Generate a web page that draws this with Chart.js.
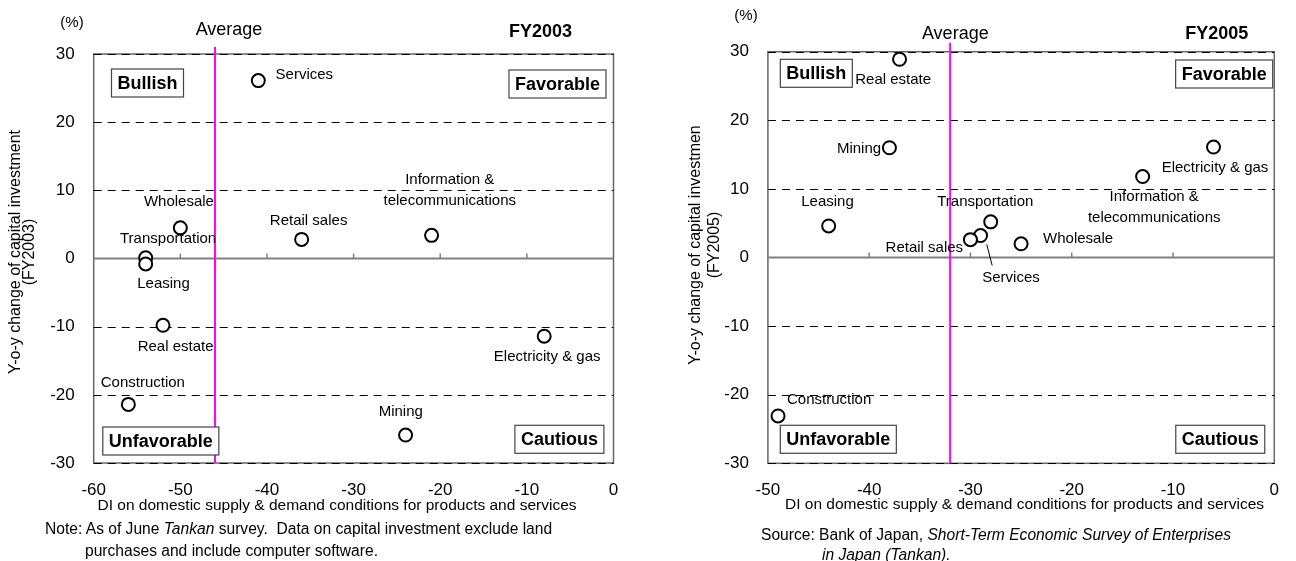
<!DOCTYPE html>
<html>
<head>
<meta charset="utf-8">
<script src="https://cdn.jsdelivr.net/npm/chart.js@4.4.1/dist/chart.umd.min.js"></script>
<style>
body { margin: 0; background: #fff; font-family: Arial, "Liberation Sans", sans-serif; }
#page { position: relative; width: 1296px; height: 561px; overflow: hidden; background: #fff; }
.panel { position: absolute; top: 0; width: 648px; height: 561px; }
.note { position: absolute; font-size: 15.6px; line-height: 18px; color: #000; white-space: nowrap; }
</style>
</head>
<body>
<div id="page">
  <div class="panel" style="left:0"><canvas id="chart-2003" width="648" height="561"></canvas></div>
  <div class="panel" style="left:648px"><canvas id="chart-2005" width="648" height="561"></canvas></div>
  <div class="note" style="left:45px; top:520px">Note: As of June <i>Tankan</i> survey.&nbsp; Data on capital investment exclude land</div>
  <div class="note" style="left:85px; top:542px">purchases and include computer software.</div>
  <div class="note" style="left:761px; top:526px">Source: Bank of Japan, <i>Short-Term Economic Survey of Enterprises</i></div>
  <div class="note" style="left:822px; top:546px"><i>in Japan (Tankan).</i></div>
</div>
<script>
//-------------------------- Data ---------------------------------------------
// FY2003 : DI (x) vs y-o-y change of capital investment (y)
const sectors2003 = ['Services', 'Wholesale', 'Transportation', 'Leasing', 'Retail sales',
    'Information &\ntelecommunications', 'Real estate', 'Electricity & gas', 'Construction', 'Mining'];
const di2003 = [-41, -50, -54, -54, -36, -21, -52, -8, -56, -24];
const capex2003 = [26.1, 4.5, 0.1, -0.8, 2.8, 3.4, -9.8, -11.4, -21.4, -25.9];
const average2003 = -46;

// FY2005
const sectors2005 = ['Real estate', 'Mining', 'Electricity & gas', 'Information &\ntelecommunications',
    'Leasing', 'Transportation', 'Services', 'Retail sales', 'Wholesale', 'Construction'];
const di2005 = [-37, -38, -6, -13, -44, -28, -29, -30, -25, -49];
const capex2005 = [28.9, 16.0, 16.1, 11.8, 4.6, 5.2, 3.2, 2.6, 2.0, -23.1];
const average2005 = -32;

// axis ranges
const xMin2003 = -60, xMin2005 = -50, xMax = 0, xStep = 10;
const yMin = -30, yMax = 30, yStep = 10;

const quadrantNames = ['Bullish', 'Favorable', 'Unfavorable', 'Cautious'];

//-------------------------- Layout (pixels) ---------------------------------
const FONT = 'Arial, "Liberation Sans", sans-serif';
Chart.defaults.font.family = FONT;
Chart.defaults.color = '#000';

// label centre offsets from each point, same order as the data
const labelPos2003 = [[46, -6], [-1.4, -26], [22.4, -19], [17.8, 20], [7, -18.6],
    [18.2, -55.3], [12.6, 21.4], [3, 21], [14.5, -21.6], [-4.8, -23.6]];
const labelPos2005 = [[-6.4, 20.7], [-30.4, 0.7], [1.5, 20.6], [11.6, 20.6], [-1.2, -24],
    [-5.4, -20], [30.4, 42], [-46.1, 7.7], [57, -5], [51.1, -16]];

const layout2003 = {
    area: { left: 93.7, top: 54, right: 613.5, bottom: 463 },
    labels: labelPos2003,
    leaders: [],
    boxes: [['tl', 17.8, 15], ['tr', 7.5, 16], ['bl', 9.1, 8], ['br', 9.6, 9.7]],
    percent: [72, 23], averageText: [229, 30], fy: [540.5, 32], avgOver: 7,
    yTitle: [15.3, 30, 252], xTitle: [337, 506],
    yTitleText: ['Y-o-y change of capital investment', '(FY2003)'], fyText: 'FY2003'
};
const layout2005 = {
    area: { left: 119.9, top: 51.7, right: 640.6, bottom: 463.3 },
    labels: labelPos2005,
    leaders: [[6, 6.2, 9, 11.6, 30]],
    boxes: [['tl', 12.4, 7.6], ['tr', 1.6, 8.3], ['bl', 12.4, 10], ['br', 9.5, 10]],
    percent: [98, 16], averageText: [307.3, 34], fy: [568.7, 34], avgOver: 9,
    yTitle: [47.5, 66.1, 245], xTitle: [376.5, 505],
    yTitleText: ['Y-o-y change of capital investmen', '(FY2005)'], fyText: 'FY2005'
};

//-------------------------- Drawing plugin -------------------------------------
function line(ctx, x1, y1, x2, y2) {
    ctx.beginPath();
    ctx.moveTo(x1, y1);
    ctx.lineTo(x2, y2);
    ctx.stroke();
}

function makePlugin(names, average, lay) {
    return {
        id: 'quadrants',
        beforeDatasetsDraw(chart) {
            const ctx = chart.ctx, a = chart.chartArea;
            const x = chart.scales.x, y = chart.scales.y;
            ctx.save();
            // frame
            ctx.strokeStyle = '#666';
            ctx.lineWidth = 1.5;
            ctx.strokeRect(a.left, a.top, a.right - a.left, a.bottom - a.top);
            // dashed grid
            ctx.strokeStyle = '#000';
            ctx.lineWidth = 1;
            ctx.setLineDash([8, 6]);
            y.ticks.forEach(t => {
                if (t.value === 0) return;
                const py = Math.round(y.getPixelForValue(t.value)) + 0.5;
                line(ctx, a.left, py, a.right, py);
            });
            ctx.setLineDash([]);
            // zero line with tick marks
            const y0 = y.getPixelForValue(0);
            ctx.strokeStyle = '#808080';
            ctx.lineWidth = 2;
            line(ctx, a.left, y0, a.right, y0);
            ctx.lineWidth = 1.5;
            x.ticks.forEach(t => {
                if (t.value === x.min || t.value === x.max) return;
                const px = x.getPixelForValue(t.value);
                line(ctx, px, y0 - 5, px, y0);
            });
            // average line
            const ax = x.getPixelForValue(average);
            ctx.strokeStyle = '#ff00ff';
            ctx.lineWidth = 2;
            line(ctx, ax, a.top - lay.avgOver, ax, a.bottom);
            ctx.restore();
        },
        afterDatasetsDraw(chart) {
            const ctx = chart.ctx, a = chart.chartArea;
            const pts = chart.getDatasetMeta(0).data;
            ctx.save();
            ctx.fillStyle = '#000';
            ctx.textBaseline = 'middle';
            ctx.textAlign = 'center';
            // point labels
            ctx.font = '15px ' + FONT;
            pts.forEach((p, i) => {
                const off = lay.labels[i];
                names[i].split('\n').forEach((txt, k) => {
                    ctx.fillText(txt, p.x + off[0], p.y + off[1] + k * 21);
                });
            });
            ctx.strokeStyle = '#000';
            ctx.lineWidth = 1;
            lay.leaders.forEach(l => {
                const p = pts[l[0]];
                line(ctx, p.x + l[1], p.y + l[2], p.x + l[3], p.y + l[4]);
            });
            // quadrant boxes
            ctx.font = 'bold 18px ' + FONT;
            ctx.strokeStyle = '#444';
            ctx.lineWidth = 1.2;
            lay.boxes.forEach((b, i) => {
                const w = ctx.measureText(quadrantNames[i]).width + 12, h = 28;
                const bx = b[0][1] === 'l' ? a.left + b[1] : a.right - b[1] - w;
                const by = b[0][0] === 't' ? a.top + b[2] : a.bottom - b[2] - h;
                ctx.fillStyle = '#fff';
                ctx.fillRect(bx, by, w, h);
                ctx.strokeRect(bx, by, w, h);
                ctx.fillStyle = '#000';
                ctx.fillText(quadrantNames[i], bx + w / 2, by + h / 2 + 1);
            });
            // headers
            ctx.fillText(lay.fyText, lay.fy[0], lay.fy[1]);
            ctx.font = '18px ' + FONT;
            ctx.fillText('Average', lay.averageText[0], lay.averageText[1]);
            ctx.font = '15px ' + FONT;
            ctx.fillText('(%)', lay.percent[0], lay.percent[1]);
            ctx.font = '15.5px ' + FONT;
            ctx.fillText('DI on domestic supply & demand conditions for products and services', lay.xTitle[0], lay.xTitle[1]);
            // y title
            ctx.font = '16px ' + FONT;
            ctx.translate(0, lay.yTitle[2]);
            ctx.rotate(-Math.PI / 2);
            ctx.fillText(lay.yTitleText[0], 0, lay.yTitle[0]);
            ctx.fillText(lay.yTitleText[1], 0, lay.yTitle[1]);
            ctx.restore();
        }
    };
}

//-------------------------- Charts ---------------------------------------------
function afficherScatter(canvasId, names, xs, ys, xMin, average, lay) {
    const points = xs.map((v, i) => ({ x: v, y: ys[i] }));
    new Chart(document.getElementById(canvasId), {
        type: 'scatter',
        data: {
            datasets: [{
                data: points,
                pointRadius: 6.5,
                borderWidth: 2,
                borderColor: '#000',
                backgroundColor: '#fff'
            }]
        },
        options: {
            responsive: false,
            animation: false,
            events: [],
            layout: {
                padding: { left: 0, top: lay.area.top, right: 648 - lay.area.right, bottom: 561 - lay.area.bottom - 40 }
            },
            plugins: { legend: { display: false }, tooltip: { enabled: false } },
            scales: {
                x: {
                    min: xMin, max: xMax,
                    ticks: { stepSize: xStep, padding: 17, font: { size: 17 }, color: '#000' },
                    grid: { display: false, drawTicks: false },
                    border: { display: false },
                    afterFit: s => { s.height = 40; }
                },
                y: {
                    min: yMin, max: yMax,
                    ticks: { stepSize: yStep, padding: 19, font: { size: 17 }, color: '#000' },
                    grid: { display: false, drawTicks: false },
                    border: { display: false },
                    afterFit: s => { s.width = lay.area.left; }
                }
            }
        },
        plugins: [makePlugin(names, average, lay)]
    });
}

afficherScatter('chart-2003', sectors2003, di2003, capex2003, xMin2003, average2003, layout2003);
afficherScatter('chart-2005', sectors2005, di2005, capex2005, xMin2005, average2005, layout2005);
</script>
</body>
</html>
